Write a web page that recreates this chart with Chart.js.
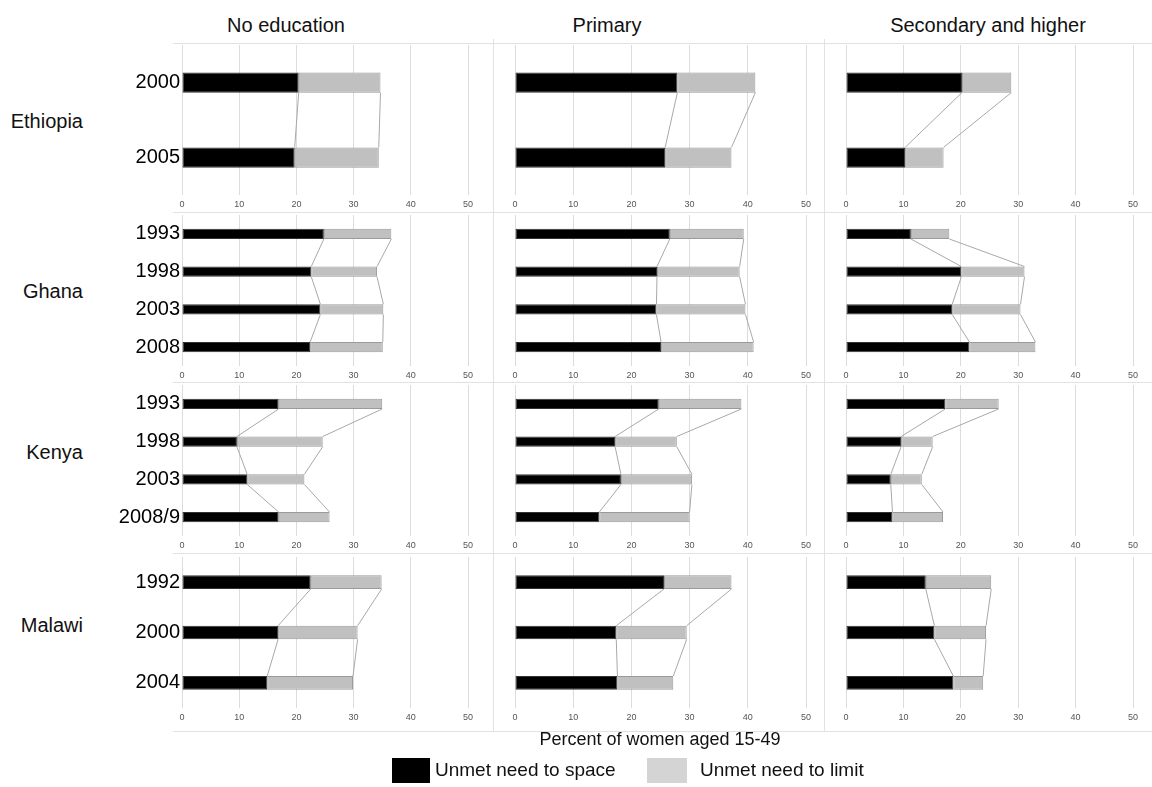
<!DOCTYPE html>
<html>
<head>
<meta charset="utf-8">
<script src="https://cdn.jsdelivr.net/npm/chart.js@4"></script>
<style>
  body { margin: 0; background: #fff; font-family: "Liberation Sans", Arial, sans-serif; }
  #page { position: relative; width: 1152px; height: 787px; overflow: hidden; }
  .abs { position: absolute; }
  .title { font-size: 20px; color: #111; white-space: nowrap; transform: translateX(-50%); }
  .country { font-size: 20px; color: #111; text-align: right; width: 83px; left: 0; transform: translateY(-50%); }
  .hline { height: 1px; background: #e2e2e2; }
  .vline { width: 1px; background: #e2e2e2; }
  .legtext { font-size: 19px; color: #111; white-space: nowrap; }
</style>
</head>
<body>
<div id="page"></div>
<script>
// education levels (columns) and countries (rows)
const levels = ["No education", "Primary", "Secondary and higher"];
const countries = ["Ethiopia", "Ghana", "Kenya", "Malawi"];

// survey years per country
const ethiopiaYears = ["2000", "2005"];
const ghanaYears = ["1993", "1998", "2003", "2008"];
const kenyaYears = ["1993", "1998", "2003", "2008/9"];
const malawiYears = ["1992", "2000", "2004"];

// unmet need to space, one array per education level
const ethiopiaSpace = [[20.4, 19.7], [27.9, 25.8], [20.2, 10.3]];
const ghanaSpace = [[24.8, 22.6, 24.2, 22.4], [26.6, 24.4, 24.3, 25.1], [11.3, 20.1, 18.5, 21.5]];
const kenyaSpace = [[16.9, 9.6, 11.4, 16.9], [24.7, 17.2, 18.2, 14.5], [17.3, 9.6, 7.8, 8.1]];
const malawiSpace = [[22.5, 16.8, 14.9], [25.6, 17.4, 17.6], [13.9, 15.4, 18.7]];

// unmet need to limit
const ethiopiaLimit = [[14.3, 14.7], [13.4, 11.4], [8.6, 6.7]];
const ghanaLimit = [[11.8, 11.5, 11.0, 12.7], [12.7, 14.2, 15.3, 15.9], [6.7, 11.0, 11.9, 11.5]];
const kenyaLimit = [[18.1, 15.0, 10.0, 8.9], [14.2, 10.6, 12.2, 15.5], [9.3, 5.5, 5.4, 8.8]];
const malawiLimit = [[12.4, 13.9, 15.0], [11.6, 12.1, 9.6], [11.4, 9.0, 5.2]];

const xTicks = [0, 10, 20, 30, 40, 50];
const seriesNames = ["Unmet need to space", "Unmet need to limit"];

const years = [ethiopiaYears, ghanaYears, kenyaYears, malawiYears];
const space = [ethiopiaSpace, ghanaSpace, kenyaSpace, malawiSpace];
const limit = [ethiopiaLimit, ghanaLimit, kenyaLimit, malawiLimit];

// panel geometry: rows (canvas top/bottom, plot top/bottom) and columns
const rows = [
  { top: 43, bottom: 211, areaTop: 45, areaBottom: 195 },
  { top: 212, bottom: 382, areaTop: 215, areaBottom: 366 },
  { top: 382, bottom: 552, areaTop: 385, areaBottom: 536 },
  { top: 553, bottom: 731, areaTop: 557, areaBottom: 708 }
];
const cols = [
  { left: 100, right: 493, areaLeft: 182, areaRight: 468, titleX: 286 },
  { left: 493, right: 824, areaLeft: 515, areaRight: 806, titleX: 607 },
  { left: 824, right: 1152, areaLeft: 846, areaRight: 1133, titleX: 988 }
];

const page = document.getElementById("page");

function addDiv(cls, css, text) {
  const d = document.createElement("div");
  d.className = "abs " + cls;
  Object.assign(d.style, css);
  if (text) d.textContent = text;
  page.appendChild(d);
  return d;
}

// faint panel frames
[43, 212, 382, 553, 731].forEach(y => addDiv("hline", { left: "173px", top: y + "px", width: "979px" }));
[493, 824].forEach(x => addDiv("vline", { left: x + "px", top: "39px", height: "692px" }));

// series lines joining the segment ends of consecutive bars
const seriesLines = {
  id: "seriesLines",
  afterDatasetsDraw(chart) {
    const ctx = chart.ctx;
    ctx.save();
    ctx.strokeStyle = "#a8a8a8";
    ctx.lineWidth = 1;
    chart.data.datasets.forEach((ds, d) => {
      const bars = chart.getDatasetMeta(d).data;
      for (let i = 0; i < bars.length - 1; i++) {
        const a = bars[i], b = bars[i + 1];
        ctx.beginPath();
        ctx.moveTo(a.x, a.y + a.height / 2);
        ctx.lineTo(b.x, b.y - b.height / 2);
        ctx.stroke();
      }
    });
    ctx.restore();
  }
};

function makePanel(r, c) {
  const row = rows[r], col = cols[c];
  const canvas = document.createElement("canvas");
  canvas.width = col.right - col.left;
  canvas.height = row.bottom - row.top;
  canvas.className = "abs";
  canvas.style.left = col.left + "px";
  canvas.style.top = row.top + "px";
  page.appendChild(canvas);

  const showYears = c === 0;
  new Chart(canvas, {
    type: "bar",
    data: {
      labels: years[r],
      datasets: [
        {
          label: seriesNames[0],
          data: space[r][c],
          backgroundColor: "#000000",
          borderColor: "#333333",
          borderWidth: 1,
          borderSkipped: false
        },
        {
          label: seriesNames[1],
          data: limit[r][c],
          backgroundColor: "#c0c0c0",
          borderColor: "#9a9a9a",
          borderWidth: 1,
          borderSkipped: false
        }
      ]
    },
    options: {
      indexAxis: "y",
      responsive: false,
      animation: false,
      barPercentage: 0.27,
      categoryPercentage: 1,
      layout: {
        padding: {
          left: 0,
          right: col.right - col.areaRight,
          top: row.areaTop - row.top,
          bottom: 0
        }
      },
      plugins: { legend: { display: false }, tooltip: { enabled: false } },
      scales: {
        x: {
          stacked: true,
          min: 0,
          max: 50,
          afterBuildTicks: scale => { scale.ticks = xTicks.map(v => ({ value: v })); },
          afterFit: scale => { scale.height = row.bottom - row.areaBottom; },
          grid: { color: "#dcdcdc", drawTicks: false },
          border: { display: false },
          ticks: { padding: 4, color: "#555", font: { size: 9 } }
        },
        y: {
          stacked: true,
          afterFit: scale => {
            scale.width = col.areaLeft - col.left;
            scale.paddingTop = 0;
            scale.paddingBottom = 0;
          },
          grid: { display: false, drawTicks: false },
          border: { display: false },
          ticks: {
            display: showYears,
            padding: 2,
            color: "#000",
            font: { size: 20, family: "'Liberation Sans', Arial, sans-serif" }
          }
        }
      }
    },
    plugins: [seriesLines]
  });
}

for (let r = 0; r < rows.length; r++) {
  for (let c = 0; c < cols.length; c++) makePanel(r, c);
}

// column titles and country names
levels.forEach((t, c) => addDiv("title", { left: cols[c].titleX + "px", top: "14px" }, t));
countries.forEach((name, r) => {
  const centers = [121, 291, 452, 625];
  addDiv("country", { top: centers[r] + "px" }, name);
});

// axis title and legend
addDiv("title", { left: "660px", top: "729px", fontSize: "18px" }, "Percent of women aged 15-49");
addDiv("", { left: "392px", top: "758px", width: "38px", height: "25px", background: "#000" });
addDiv("legtext", { left: "435px", top: "759px" }, seriesNames[0]);
addDiv("", { left: "647px", top: "758px", width: "40px", height: "25px", background: "#d4d4d4" });
addDiv("legtext", { left: "700px", top: "759px" }, seriesNames[1]);
</script>
</body>
</html>
